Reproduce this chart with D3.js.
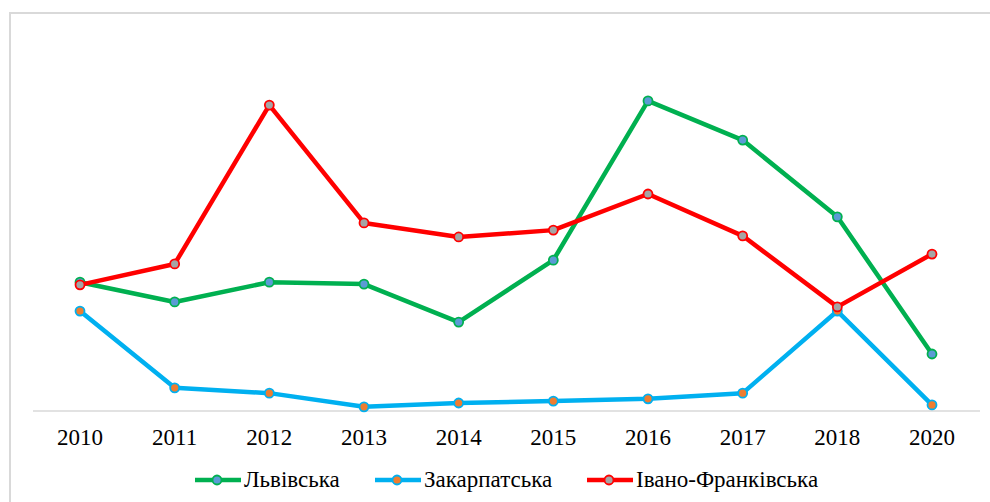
<!DOCTYPE html>
<html>
<head>
<meta charset="utf-8">
<script src="https://cdn.jsdelivr.net/npm/d3@7"></script>
<style>
    body { margin: 0; background: #fff; }
</style>
</head>
<body>
<svg id="chart" width="990" height="502"></svg>
<script>
// Years on the x axis (2019 is missing in the source)
const years = ["2010", "2011", "2012", "2013", "2014", "2015", "2016", "2017", "2018", "2020"];

// Values (no y axis in the original, relative units)
const lviv = [33.9, 28.7, 33.9, 33.4, 23.4, 39.7, 81.6, 71.3, 51.1, 15.0];
const zakarpattia = [26.3, 6.1, 4.7, 1.1, 2.1, 2.6, 3.2, 4.7, 26.3, 1.6];
const ivanoFrankivsk = [33.2, 38.7, 80.5, 49.5, 45.8, 47.6, 57.1, 46.1, 27.4, 41.3];

const seriesNames = ["Львівська", "Закарпатська", "Івано-Франківська"];

const serif = "'Liberation Serif', 'DejaVu Serif', serif";

let series = [
    {name: seriesNames[0], values: lviv, line: "#00b050", fill: "#5b9bd5"},
    {name: seriesNames[1], values: zakarpattia, line: "#00b0f0", fill: "#ed7d31"},
    {name: seriesNames[2], values: ivanoFrankivsk, line: "#ff0000", fill: "#a5a5a5"}
];

let svg = d3.select("#chart");

// Outer frame
svg.append("rect")
    .attr("x", 10).attr("y", 13)
    .attr("width", 1000).attr("height", 520)
    .attr("fill", "none")
    .attr("stroke", "#d9d9d9")
    .attr("stroke-width", 2);

let x = d3.scalePoint()
    .domain(years)
    .range([80, 932]);

let y = d3.scaleLinear()
    .domain([0, 100])
    .range([411, 31]);

// Baseline
svg.append("line")
    .attr("x1", 33).attr("x2", 980)
    .attr("y1", y(0)).attr("y2", y(0))
    .attr("stroke", "#d9d9d9")
    .attr("stroke-width", 1.5);

// Year labels
svg.append("g").selectAll("text")
    .data(years)
    .enter()
    .append("text")
    .attr("x", d => x(d))
    .attr("y", 445)
    .attr("text-anchor", "middle")
    .attr("font-family", serif)
    .attr("font-size", 23)
    .attr("fill", "#000")
    .text(d => d);

let line = d3.line()
    .x((d, i) => x(years[i]))
    .y(d => y(d));

series.forEach(s => {
    let g = svg.append("g");
    g.append("path")
        .attr("d", line(s.values))
        .attr("fill", "none")
        .attr("stroke", s.line)
        .attr("stroke-width", 4.5)
        .attr("stroke-linejoin", "round");

    g.selectAll("circle")
        .data(s.values)
        .enter()
        .append("circle")
        .attr("cx", (d, i) => x(years[i]))
        .attr("cy", d => y(d))
        .attr("r", 4.5)
        .attr("fill", s.fill)
        .attr("stroke", s.line)
        .attr("stroke-width", 1.8);
});

// Legend
let legendX = [195, 375, 587];
let legend = svg.append("g").selectAll("g")
    .data(series)
    .enter()
    .append("g")
    .attr("transform", (d, i) => `translate(${legendX[i]},480)`);

legend.append("line")
    .attr("x1", 0).attr("x2", 46)
    .attr("stroke", d => d.line)
    .attr("stroke-width", 4.5);

legend.append("circle")
    .attr("cx", 22)
    .attr("r", 4.5)
    .attr("fill", d => d.fill)
    .attr("stroke", d => d.line)
    .attr("stroke-width", 1.8);

legend.append("text")
    .attr("x", 49)
    .attr("y", 7)
    .attr("font-family", serif)
    .attr("font-size", 23)
    .attr("fill", "#000")
    .text(d => d.name);
</script>
</body>
</html>
